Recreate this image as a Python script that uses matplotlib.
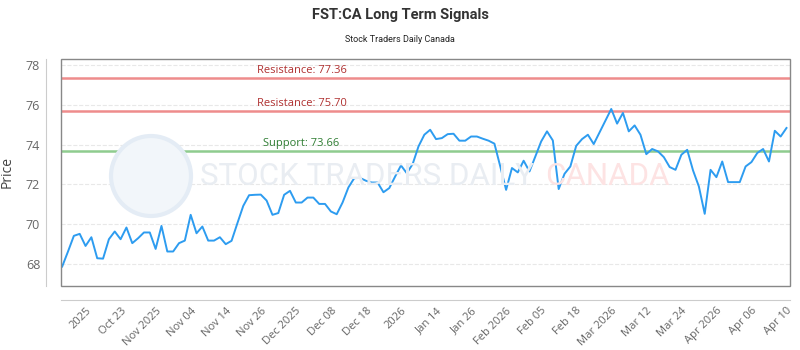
# FST:CA long term signals chart
# price line with support / resistance levels

import matplotlib
matplotlib.use("Agg")
import matplotlib.pyplot as plt
import matplotlib.patches as mpatches
import matplotlib.transforms as mtransforms

title = "FST:CA Long Term Signals"
subtitle = "Stock Traders Daily Canada"

prices = [
    67.85, 68.61, 69.40, 69.50, 68.89, 69.33, 68.27, 68.25, 69.23, 69.62,
    69.23, 69.82, 69.03, 69.28, 69.57, 69.57, 68.74, 69.90, 68.61, 68.61,
    69.03, 69.16, 70.46, 69.53, 69.87, 69.16, 69.16, 69.33, 68.98, 69.15,
    70.04, 70.91, 71.45, 71.47, 71.48, 71.18, 70.46, 70.55, 71.47, 71.67,
    71.08, 71.08, 71.33, 71.33, 71.01, 71.01, 70.63, 70.49, 71.08, 71.84,
    72.31, 72.32, 72.18, 72.09, 72.09, 71.60, 71.81, 72.39, 72.95, 72.56,
    73.02, 73.91, 74.50, 74.75, 74.28, 74.33, 74.53, 74.55, 74.20, 74.20,
    74.41, 74.41, 74.30, 74.20, 74.05, 72.90, 71.72, 72.82, 72.60, 73.19,
    72.65, 73.40, 74.16, 74.67, 74.21, 71.76, 72.53, 72.90, 73.94, 74.28,
    74.50, 74.03, 74.62, 75.21, 75.80, 75.06, 75.60, 74.67, 74.97, 74.50,
    73.52, 73.78, 73.66, 73.37, 72.87, 72.73, 73.49, 73.74, 72.70, 71.89,
    70.51, 72.73, 72.36, 73.15, 72.11, 72.11, 72.11, 72.90, 73.12, 73.58,
    73.78, 73.15, 74.70, 74.41, 74.84,
]

tick_labels = [
    "2025", "Oct 23", "Nov 2025", "Nov 04", "Nov 14", "Nov 26", "Dec 2025",
    "Dec 08", "Dec 18", "2026", "Jan 14", "Jan 26", "Feb 2026", "Feb 05",
    "Feb 18", "Mar 2026", "Mar 12", "Mar 24", "Apr 2026", "Apr 06", "Apr 10",
]
tick_first = 4
tick_step = 6

resistance = [77.36, 75.70]
support = [73.66]
yticks = [68, 70, 72, 74, 76, 78]

plt.rcParams['font.family'] = ['Open Sans', 'DejaVu Sans']

fig = plt.figure(figsize=(8, 3.5), dpi=100)
ax = fig.add_axes([61 / 800, 64 / 350, 729 / 800, 227 / 350])

# watermark
cx, cy = 151 / 800, 1 - 176 / 350
fig.patches.append(mpatches.Ellipse((cx, cy), 80 / 800, 80 / 350,
                                    transform=fig.transFigure,
                                    facecolor='#f2f6fa', edgecolor='#e4ecf5',
                                    linewidth=3, zorder=0))
fig.text(200 / 800, 1 - 177 / 350, "STOCK TRADERS DAILY", fontsize=22.5,
         color='#e9edf2', ha='left', va='center', family='Roboto',
         zorder=0)
fig.text(545 / 800, 1 - 177 / 350, "CANADA", fontsize=22.5, color='#fde3e3',
         ha='left', va='center', family='Roboto', zorder=0)

x = list(range(len(prices)))
ax.plot(x, prices, color='#2d9cf0', linewidth=1.4, zorder=3)

blend = mtransforms.blended_transform_factory(ax.transAxes, ax.transData)
for r in resistance:
    ax.axhline(r, color='#ee8c8c', linewidth=1.8, zorder=2)
    ax.text(0.33, r + 0.12, "Resistance: %.2f" % r, transform=blend,
            ha='center', va='bottom', fontsize=8, color='#b03030')
for s in support:
    ax.axhline(s, color='#8fcc8f', linewidth=1.8, zorder=2)
    ax.text(0.33, s + 0.12, "Support: %.2f" % s, transform=blend,
            ha='center', va='bottom', fontsize=8, color='#2e7d32')

# offset axis lines first, they reset the ticks
for side in ['top', 'right']:
    ax.spines[side].set_visible(False)
ax.spines['left'].set_position(('outward', 11))
ax.spines['bottom'].set_position(('outward', 10))
ax.spines['left'].set_color('#cccccc')
ax.spines['bottom'].set_color('#cccccc')

ax.set_xlim(-0.2, len(prices) - 1 + 0.6)
ax.set_ylim(66.87, 78.32)
ax.set_yticks(yticks)
ax.set_yticklabels([str(v) for v in yticks])
ax.set_xticks(list(range(tick_first, len(prices), tick_step)))
ax.set_xticklabels(tick_labels)
ax.tick_params(axis='both', length=0, colors='#666666')
ax.tick_params(axis='y', pad=4, labelsize=9)
ax.tick_params(axis='x', pad=4, labelsize=8, labelrotation=45)
for lab in ax.get_xticklabels():
    lab.set_ha('right')
    lab.set_rotation_mode('anchor')
ax.grid(axis='y', color='#e8e8e8', linestyle='--', linewidth=0.8)
ax.set_axisbelow(True)
ax.set_ylabel("Price", fontsize=10, color='#444444', labelpad=8)

ax.add_patch(mpatches.Rectangle((0, 0), 1, 1, transform=ax.transAxes,
                                fill=False, edgecolor='#888888',
                                linewidth=1, clip_on=False, zorder=4))
ax.patch.set_alpha(0)

fig.text(0.5, 1 - 15 / 350, title, ha='center', va='center', fontsize=10.5,
         fontweight='bold', color='#333333', family='Roboto')
fig.text(0.5, 1 - 40 / 350, subtitle, ha='center', va='center',
         fontsize=6.5, color='#222222', family='Roboto')

fig.savefig("out.png", dpi=100)
